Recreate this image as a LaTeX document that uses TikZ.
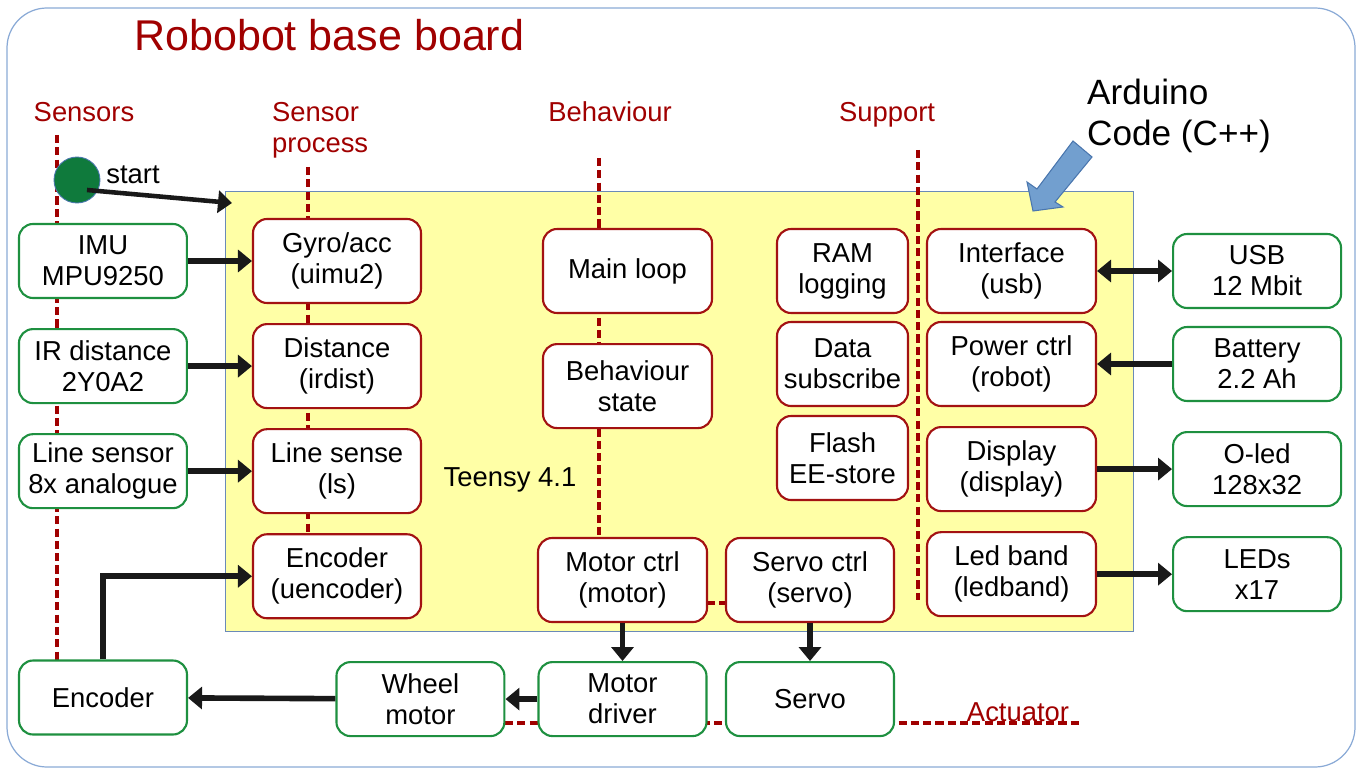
\documentclass[tikz,border=0pt]{standalone}
\usepackage{fontspec}
\setmainfont{Liberation Sans}
\usetikzlibrary{arrows.meta,positioning}

\definecolor{lblred}{HTML}{A00000}
\definecolor{redline}{HTML}{A31212}
\definecolor{grnline}{HTML}{1E9040}
\definecolor{teensyfill}{HTML}{FFFFA6}
\definecolor{teensyline}{HTML}{6A8AB8}
\definecolor{frameline}{HTML}{8AAAD6}
\definecolor{startgreen}{HTML}{0F7A3C}
\definecolor{codeblue}{HTML}{729FCF}
\definecolor{codeline}{HTML}{4A76AE}

\newcommand\boxfont{\fontsize{15.6}{17.6}\selectfont}

\begin{document}
\begin{tikzpicture}[
    x=0.02cm, y=-0.02cm,
    node distance=0.38cm,
    every node/.style={font=\boxfont},
    sensbox/.style={draw=grnline, line width=1.2pt, rounded corners=0.28cm, fill=white, align=center, minimum width=3.36cm, minimum height=1.48cm, inner sep=1pt},
    procbox/.style={draw=redline, line width=1.2pt, rounded corners=0.28cm, fill=white, align=center, minimum width=3.36cm, minimum height=1.68cm, inner sep=1pt},
    supbox/.style={procbox, minimum width=2.62cm},
    section/.style={text=lblred, align=left},
    divider/.style={lblred, line width=1.9pt, dash pattern=on 4.6pt off 2.4pt},
    arrow/.style={-{Triangle[length=2.8mm, width=4.4mm]}, line width=3.2pt, black!90},
    dblarrow/.style={{Triangle[length=2.8mm, width=4.4mm]}-{Triangle[length=2.8mm, width=4.4mm]}, line width=3.2pt, black!90}
]
\useasboundingbox (0,0) rectangle (1361,773);

% frame and board
\draw[frameline, line width=0.7pt, rounded corners=0.8cm] (7,8) rectangle (1355,767);
\node[draw=teensyline, fill=teensyfill, line width=0.7pt, anchor=north west, minimum width=18.16cm, minimum height=8.8cm, inner sep=0pt] (teensy) at (225,191) {};

% section dividers
\draw[divider] (57,135) -- (57,660);
\draw[divider] (308,167) -- (308,620);
\draw[divider] (599,158) -- (599,538);
\draw[divider] (918,150) -- (918,600);
\draw[divider] (707,603) -- (726,603);
\draw[divider] (505,723) -- (1080,723);

% sensor processing
\node[procbox] (gyro) at (337,261) {Gyro/acc\\(uimu2)};
\node[procbox, below=of gyro] (dist) {Distance\\(irdist)};
\node[procbox, below=of dist] (ls) {Line sense\\(ls)};
\node[procbox, below=of ls] (uenc) {Encoder\\(uencoder)};

% sensors
\node[sensbox, left=1.28cm of gyro] (imu) {IMU\\MPU9250};
\node[sensbox, left=1.28cm of dist] (irdist) {IR distance\\2Y0A2};
\node[sensbox, left=1.28cm of ls] (linesensor) {Line sensor\\8x analogue};

% behaviour
\node[procbox, minimum width=3.38cm] (mainloop) at (627.5,271) {Main loop};
\node[procbox, minimum width=3.38cm, below=0.58cm of mainloop] (bstate) {Behaviour\\state};
\node[procbox, minimum width=3.38cm] (motorctrl) at (622.5,580) {Motor ctrl\\(motor)};
\node[procbox] (servoctrl) at (810,580) {Servo ctrl\\(servo)};

% support
\node[supbox] (ram) at (842.5,271) {RAM\\logging};
\node[supbox] (datasub) at (842.5,364) {Data\\subscribe};
\node[supbox] (flash) at (842.5,458) {Flash\\EE-store};
\node[procbox, minimum width=3.38cm] (iface) at (1011.5,271) {Interface\\(usb)};
\node[procbox, minimum width=3.38cm] (power) at (1011.5,364) {Power ctrl\\(robot)};
\node[procbox, minimum width=3.38cm, below=of power] (display) {Display\\(display)};
\node[procbox, minimum width=3.38cm, below=of display] (ledband) {Led band\\(ledband)};

% external units
\node[sensbox, right=1.5cm of iface] (usb) {USB\\12 Mbit};
\node[sensbox, right=1.5cm of power] (battery) {Battery\\2.2 Ah};
\node[sensbox, right=1.5cm of display] (oled) {O-led\\128x32};
\node[sensbox, right=1.5cm of ledband] (leds) {LEDs\\x17};

% actuators
\node[sensbox, below=0.76cm of motorctrl] (mdriver) {Motor\\driver};
\node[sensbox, below=0.76cm of servoctrl] (servo) {Servo};
\node[sensbox, left=0.64cm of mdriver] (wheel) {Wheel\\motor};
\node[sensbox] (enc) at (103,697.5) {Encoder};

% start
\node[circle, fill=startgreen, draw=codeline, line width=0.5pt, minimum size=0.92cm, inner sep=0pt] (start) at (77,180) {};
\node (startlbl) at (133,175) {start};
\coordinate (entry) at (232,203);

% connections
\draw[arrow, line width=2.6pt] ([shift={(10,10)}]start.center) -- (entry);
\draw[arrow] (imu) -- (gyro);
\draw[arrow] (irdist) -- (dist);
\draw[arrow] (linesensor) -- (ls);
\draw[arrow] (enc.north) |- (uenc.west);
\draw[dblarrow] (iface) -- (usb);
\draw[arrow] (battery) -- (power);
\draw[arrow] (display) -- (oled);
\draw[arrow] (ledband) -- (leds);
\draw[arrow] (motorctrl) -- (mdriver);
\draw[arrow] (servoctrl) -- (servo);
\draw[arrow] (mdriver) -- (wheel);
\draw[arrow] (wheel) -- (enc);

% labels
\node[anchor=west, text=lblred, font=\fontsize{24.5}{28}\selectfont] (title) at (128,35) {Robobot base board};
\node[section] (lblsens) at (84,112) {Sensors};
\node[section, anchor=west] (lblproc) at (266,130) {Sensor\\process};
\node[section] (lblbeh) at (610,112) {Behaviour};
\node[section] (lblsup) at (887,115) {Support};
\node[section] (lblact) at (1018,712) {Actuator};
\node (teensylbl) at (510,480) {Teensy 4.1};
\node[anchor=west, align=left, font=\fontsize{20}{23.3}\selectfont] (arduino) at (1081,116) {Arduino\\Code (C++)};

% code pointer
\filldraw[fill=codeblue, draw=codeline, line width=0.6pt] (1073,141) -- (1092,157) -- (1055,202) -- (1063,207) -- (1033,211) -- (1027,182) -- (1037,189) -- cycle;
\end{tikzpicture}
\end{document}
